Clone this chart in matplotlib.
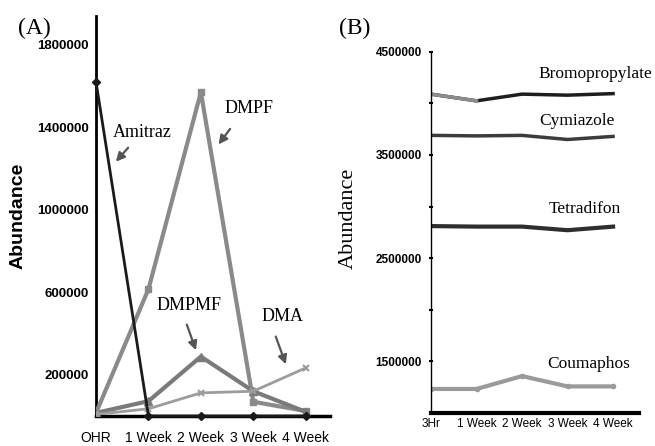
import numpy as np
import matplotlib
matplotlib.use('Agg')
import matplotlib.pyplot as plt

# panel A: amitraz and its degradation products
weeks_a = ['OHR', '1 Week', '2 Week', '3 Week', '4 Week']
amitraz = [1620000, 0, 0, 0, 0]
dmpf = [15000, 615000, 1570000, 69000, 24000]
dmpmf = [15000, 72000, 288000, 120000, 20000]
dma = [8000, 35000, 112000, 120000, 233000]

# panel B: other acaricides
weeks_b = ['3Hr', '1 Week', '2 Week', '3 Week', '4 Week']
bromopropylate = [4090000, 4025000, 4090000, 4080000, 4095000]
cymiazole = [3690000, 3685000, 3690000, 3650000, 3680000]
tetradifon = [2810000, 2805000, 2805000, 2770000, 2805000]
coumaphos = [1230000, 1230000, 1355000, 1255000, 1255000]

serif = 'Liberation Serif'
sans = 'Liberation Sans'

fig = plt.figure(figsize=(6.55, 4.46), dpi=100)

# ---------- (A) ----------
ax1 = fig.add_axes([0.1466, 0.0673, 0.357, 0.897])
x = np.arange(len(weeks_a))
ax1.plot(x, dmpf, color='#8a8a8a', lw=3, marker='s', ms=5, zorder=3)
ax1.plot(x, dmpmf, color='#7a7a7a', lw=3, marker='^', ms=6, zorder=3)
ax1.plot(x, dma, color='#9c9c9c', lw=2, marker='x', ms=5, mew=1.5, zorder=3)
ax1.plot(x, amitraz, color='#1a1a1a', lw=2, marker='D', ms=4, zorder=4, clip_on=False)

ax1.set_xlim(0, 4.46)
ax1.set_ylim(0, 1940000)
ax1.set_xticks(x)
ax1.set_xticklabels(weeks_a, fontfamily=sans, fontsize=10)
ax1.set_yticks([200000, 600000, 1000000, 1400000, 1800000])
ax1.set_yticklabels(['200000', '600000', '1000000', '1400000', '1800000'],
                    fontfamily=sans, fontsize=9.5, fontweight='bold')
ax1.tick_params(axis='x', length=0, pad=11)
ax1.tick_params(axis='y', length=0, pad=5)
for s in ['top', 'right']:
    ax1.spines[s].set_visible(False)
ax1.spines['left'].set_linewidth(2)
ax1.spines['bottom'].set_linewidth(2.5)

arrow = dict(arrowstyle='-|>', color='#555555', lw=1.6, mutation_scale=13)
ax1.text(0.886, 1374000, 'Amitraz', fontfamily=serif, fontsize=13, ha='center', va='center')
ax1.annotate('', xy=(0.343, 1223000), xytext=(0.648, 1311000), arrowprops=arrow)
ax1.text(2.924, 1490000, 'DMPF', fontfamily=serif, fontsize=13, ha='center', va='center')
ax1.annotate('', xy=(2.305, 1306000), xytext=(2.59, 1403000), arrowprops=arrow)
ax1.text(1.771, 534000, 'DMPMF', fontfamily=serif, fontsize=13, ha='center', va='center')
ax1.annotate('', xy=(1.924, 306000), xytext=(1.714, 456000), arrowprops=arrow)
ax1.text(3.552, 482000, 'DMA', fontfamily=serif, fontsize=13, ha='center', va='center')
ax1.annotate('', xy=(3.638, 238000), xytext=(3.41, 398000), arrowprops=arrow)

fig.text(18 / 655, 1 - 216 / 446, 'Abundance', rotation=90, fontfamily=sans,
         fontsize=14, fontweight='bold', ha='center', va='center')
fig.text(34 / 655, 1 - 28 / 446, '(A)', fontfamily=serif, fontsize=17,
         ha='center', va='center')

# ---------- (B) ----------
ax2 = fig.add_axes([0.658, 0.0747, 0.3176, 0.809])
xb = np.arange(len(weeks_b))
ax2.plot(xb, bromopropylate, color='#1e1e1e', lw=2.5)
ax2.plot(xb[:2], bromopropylate[:2], color='#8c8c8c', lw=2.5)
ax2.plot(xb, cymiazole, color='#3c3c3c', lw=2.5)
ax2.plot(xb, tetradifon, color='#2e2e2e', lw=3)
ax2.plot(xb, coumaphos, color='#9a9a9a', lw=3, marker='o', ms=3)

ax2.set_xlim(0, 4.57)
ax2.set_ylim(1000000, 4500000)
ax2.set_xticks(xb)
ax2.set_xticklabels(weeks_b, fontfamily=sans, fontsize=8.5)
ax2.set_yticks(np.arange(1500000, 4500001, 500000))
ax2.set_yticklabels(['1500000', '', '2500000', '', '3500000', '', '4500000'],
                    fontfamily=sans, fontsize=8.5, fontweight='bold')
ax2.tick_params(axis='x', length=0, pad=4)
ax2.tick_params(axis='y', length=3, width=1.5, direction='inout', pad=5)
for s in ['top', 'right']:
    ax2.spines[s].set_visible(False)
ax2.spines['left'].set_linewidth(1)
ax2.spines['bottom'].set_linewidth(3)

for name, (tx, ty) in zip(['Bromopropylate', 'Cymiazole', 'Tetradifon', 'Coumaphos'],
                          [(3.61, 4283000), (3.217, 3827000), (3.39, 2973000), (3.457, 1468000)]):
    ax2.text(tx, ty, name, fontfamily=serif, fontsize=12.5, ha='center', va='center',
             clip_on=False)

fig.text(348 / 655, 1 - 218 / 446, 'Abundance', rotation=90, fontfamily=serif,
         fontsize=16, ha='center', va='center')
fig.text(355 / 655, 1 - 28 / 446, '(B)', fontfamily=serif, fontsize=17,
         ha='center', va='center')

fig.savefig('out.png', dpi=100, facecolor='white')
